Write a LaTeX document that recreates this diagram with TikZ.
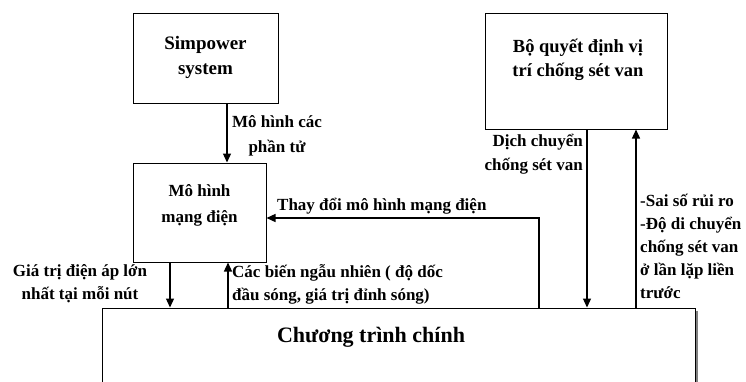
\documentclass[tikz,border=0pt]{standalone}
\usepackage{fontspec}
\setmainfont{Liberation Serif}
\usetikzlibrary{arrows.meta}

\begin{document}
\begin{tikzpicture}[
    x=1pt, y=-1pt,
    box/.style={rectangle, draw, line width=1pt, inner sep=0pt},
    boxtext/.style={font=\fontsize{19}{25}\selectfont\bfseries, align=center},
    lbl/.style={font=\fontsize{17}{23}\selectfont\bfseries, inner sep=0pt},
    arrow/.style={-{Triangle[width=8pt,length=9pt]}, line width=1.3pt}
]

% Background
\clip (0,0) rectangle (746,381);
\fill[white] (0,0) rectangle (746,381);

% Boxes
\node[box, minimum width=145, minimum height=90] (sim) at (205.5,58) {};
\node[boxtext] (simtxt) at (205.5,57) {Simpower\\ system};

\node[box, minimum width=133, minimum height=99] (model) at (199.5,212.5) {};
\node[boxtext, font=\fontsize{17}{26}\selectfont\bfseries] (modeltxt) at (199.5,205) {Mô hình\\ mạng điện};

\node[box, minimum width=182, minimum height=116] (dec) at (576,71) {};
\node[boxtext, font=\fontsize{18.5}{24}\selectfont\bfseries] (dectxt) at (578,60) {Bộ quyết định vị\\ trí chống sét van};

\node[box, minimum width=593, minimum height=140] (main) at (398.5,378) {};
\node[font=\fontsize{22}{26}\selectfont\bfseries] (maintxt) at (371,337) {Chương trình chính};
\draw[gray, line width=1.6pt] ([shift={(1.6,3)}]main.north east) -- ([xshift=1.6pt]main.south east);

% Connector positions
\coordinate (xa) at (227,0);
\coordinate (xb) at (170,0);
\coordinate (xc) at (228,0);
\coordinate (xd) at (587,0);
\coordinate (xe) at (636,0);
\coordinate (bend) at (539,218);

% Connections
\draw[arrow] (xa |- sim.south) -- (xa |- model.north);
\draw[arrow] (xb |- model.south) -- (xb |- main.north);
\draw[arrow] (xc |- main.north) -- (xc |- model.south);
\draw[arrow] (xd |- dec.south) -- (xd |- main.north);
\draw[arrow] (xe |- main.north) -- (xe |- dec.south);
\draw[arrow] (main.north -| bend) -- (bend) -- (model.east |- bend);

% Labels
\node[lbl, align=center, font=\fontsize{17}{25}\selectfont\bfseries] (l1) at (277,136) {Mô hình các\\ phần tử};
\node[lbl, align=right, anchor=east, font=\fontsize{17}{24}\selectfont\bfseries] (l2) at (583,154) {Dịch chuyển\\ chống sét van};
\node[lbl, align=left, anchor=west] (l3) at (640,246) {-Sai số rủi ro\\ -Độ di chuyển\\ chống sét van\\ ở lần lặp liền\\ trước};
\node[lbl, anchor=west] (l4) at (277,206) {Thay đổi mô hình mạng điện};
\node[lbl, align=center] (l5) at (80,284) {Giá trị điện áp lớn\\ nhất tại mỗi nút};
\node[lbl, align=left, anchor=west] (l6) at (232,284) {Các biến ngẫu nhiên ( độ dốc\\ đầu sóng, giá trị đỉnh sóng)};

\end{tikzpicture}
\end{document}
